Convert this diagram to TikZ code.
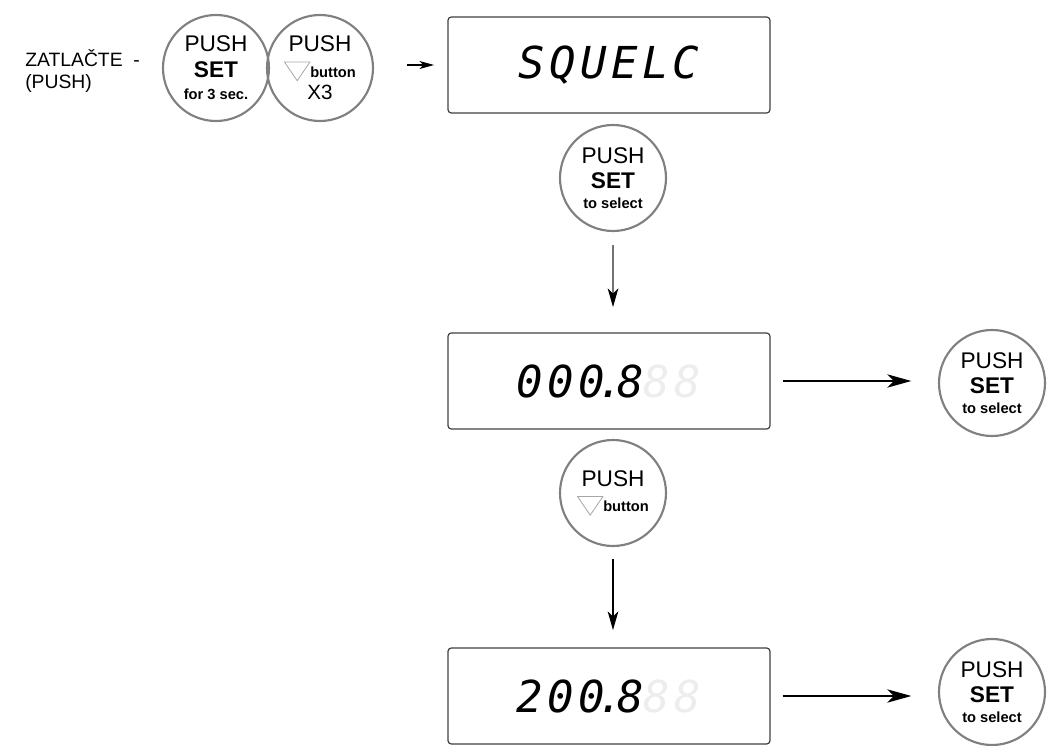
\documentclass[tikz,border=0pt]{standalone}
\usepackage{fontspec}
\setmainfont{Liberation Sans}
\newfontfamily\lcdfont[LetterSpace=10]{DejaVu Sans Mono}
\usetikzlibrary{arrows.meta}

\tikzset{
  lcdbox/.style={draw=black!75, line width=0.9pt, rounded corners=2.5pt,
    minimum width=241.5pt, minimum height=72pt, inner sep=0pt,
    font=\lcdfont\itshape\fontsize{33}{33}\selectfont},
  pushbtn/.style={circle, draw=black!50, line width=1.6pt, minimum size=79.5pt,
    inner sep=0pt, align=center, font=\fontsize{17}{19}\selectfont},
  arr/.style={-{Stealth[length=14pt,width=8pt,inset=4pt]}, line width=0.8pt},
}
\newcommand{\downtri}{\raisebox{-3pt}{\tikz\draw[black!35, line width=0.6pt] (0,0) -- (19pt,0) -- (9.5pt,-14pt) -- cycle;}}
\newcommand{\ghost}[1]{\textcolor{black!7}{#1}}
\newcommand{\lcddot}{\makebox[9pt]{.}}
\newcommand{\smallbf}{\fontsize{11}{12}\selectfont\bfseries}

\begin{document}
\begin{tikzpicture}[x=0.75pt, y=-0.75pt]
\useasboundingbox (0,0) rectangle (1047,746);

% --- start: hold SET, then down button three times ---
\node[anchor=north west, align=left, inner sep=0pt,
  font=\fontsize{14.5}{17}\selectfont] (intro) at (25,49) {ZATLAČTE~~-\\(PUSH)};
\node[pushbtn] (holdset) at (216,68) {PUSH\\\textbf{SET}\\[-2pt]{\smallbf for 3 sec.}};
\node[pushbtn] (downx3) at (320,68) {PUSH\\\downtri{\smallbf button}\\[-2pt]{\fontsize{15.5}{17}\selectfont X3}};

% --- displays ---
\node[lcdbox] (lcdA) at (609,65) {SQUELC};
\node[lcdbox] (lcdB) at (609,381) {000\lcddot8\ghost{88}};
\node[lcdbox] (lcdC) at (609,696) {200\lcddot8\ghost{88}};

% --- buttons between and beside the displays ---
\node[pushbtn] (selA) at (613,178) {PUSH\\\textbf{SET}\\[-4pt]{\smallbf to select}};
\node[pushbtn] (downB) at (613,493) {PUSH\\\downtri{\smallbf button}};
\node[pushbtn] (selB) at (992,383) {PUSH\\\textbf{SET}\\[-4pt]{\smallbf to select}};
\node[pushbtn] (selC) at (992,692) {PUSH\\\textbf{SET}\\[-4pt]{\smallbf to select}};

% Arrows
\draw[arr, -{Stealth[length=11pt,width=6pt,inset=3pt]}, shorten <=25pt, shorten >=10pt]
  (downx3.east |- lcdA.west) -- (lcdA.west);
\draw[arr, draw=black!55, -{Stealth[length=14pt,width=8pt,inset=4pt,color=black]},
  shorten <=10pt, shorten >=19pt] (selA) -- (selA |- lcdB.north);
\draw[arr, shorten <=9pt, shorten >=13pt] (downB) -- (downB |- lcdC.north);
\draw[arr, -{Stealth[length=18pt,width=10pt,inset=5pt]}, shorten <=9pt, shorten >=20pt]
  (lcdB.east) -- (lcdB.east -| selB.west);
\draw[arr, -{Stealth[length=18pt,width=10pt,inset=5pt]}, shorten <=9pt, shorten >=20pt]
  (lcdC.east) -- (lcdC.east -| selC.west);

\end{tikzpicture}
\end{document}
